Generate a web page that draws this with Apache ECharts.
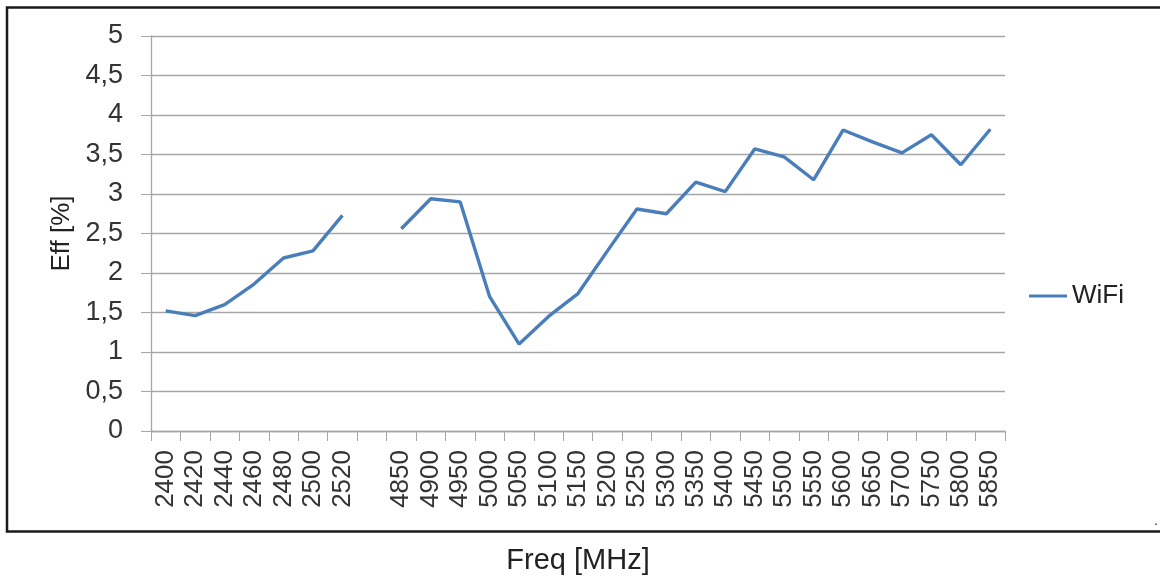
<!DOCTYPE html>
<html>
<head>
<meta charset="utf-8">
<script src="https://cdn.jsdelivr.net/npm/echarts@6/dist/echarts.min.js"></script>
<style>html,body{margin:0;padding:0;background:#fff}#c{width:1160px;height:577px}</style>
</head>
<body>
<div id="c"></div>
<script>
const categories = ['2400','2420','2440','2460','2480','2500','2520','','4850','4900','4950','5000','5050','5100','5150','5200','5250','5300','5350','5400','5450','5500','5550','5600','5650','5700','5750','5800','5850'];
const wifi = [1.52,1.46,1.60,1.86,2.19,2.28,2.73,null,2.56,2.94,2.90,1.70,1.10,1.45,1.74,2.28,2.81,2.75,3.15,3.03,3.57,3.47,3.18,3.81,3.66,3.52,3.75,3.37,3.82];
const yTicks = [0,0.5,1,1.5,2,2.5,3,3.5,4,4.5,5];

const FONT = 'Liberation Sans';
const chart = echarts.init(document.getElementById('c'), null, {renderer:'canvas'});
chart.setOption({
  backgroundColor:'#fff',
  animation:false,
  textStyle:{fontFamily:FONT},
  graphic:[
    {type:'rect', shape:{x:7, y:7.5, width:1160, height:524}, style:{fill:'none', stroke:'#1a1a1a', lineWidth:2.5}, z:-1},
    {type:'text', left:1154, top:514, style:{text:'.', fontSize:14, fill:'#222', fontFamily:FONT}}
  ],
  grid:{left:151, right:155, top:36, bottom:146, containLabel:false, outerBoundsMode:'none'},
  legend:{
    left:1024, top:278, orient:'vertical',
    icon:'rect', itemWidth:38, itemHeight:3,
    textStyle:{fontSize:26, color:'#222', fontFamily:FONT},
    data:['WiFi']
  },
  xAxis:{
    type:'category', data:categories, boundaryGap:true,
    name:'Freq [MHz]', nameLocation:'middle', nameGap:115,
    nameTextStyle:{fontSize:29, color:'#222', fontFamily:FONT},
    axisLine:{lineStyle:{color:'#a6a6a6', width:1.3}},
    axisTick:{show:true, length:10, interval:0, lineStyle:{color:'#a6a6a6'}},
    axisLabel:{rotate:90, interval:0, margin:19, fontSize:26, color:'#333', fontFamily:FONT},
    splitLine:{show:false}
  },
  yAxis:{
    type:'value', min:0, max:5, interval:0.5,
    name:'Eff [%]', nameLocation:'middle', nameGap:76, nameRotate:90,
    nameTextStyle:{fontSize:26, color:'#222', fontFamily:FONT},
    axisLine:{show:true, lineStyle:{color:'#a6a6a6', width:1.3}},
    axisTick:{show:true, length:10, lineStyle:{color:'#a6a6a6'}},
    axisLabel:{margin:28, fontSize:27, color:'#333', fontFamily:FONT,
      formatter:function(v){return String(v).replace('.', ',');}},
    splitLine:{show:true, lineStyle:{color:'#a6a6a6', width:1.3}}
  },
  series:[{
    name:'WiFi', type:'line', data:wifi, symbol:'none', connectNulls:false,
    lineStyle:{color:'#4a7ebb', width:3.4}, itemStyle:{color:'#4a7ebb'}
  }]
});
</script>
</body>
</html>
